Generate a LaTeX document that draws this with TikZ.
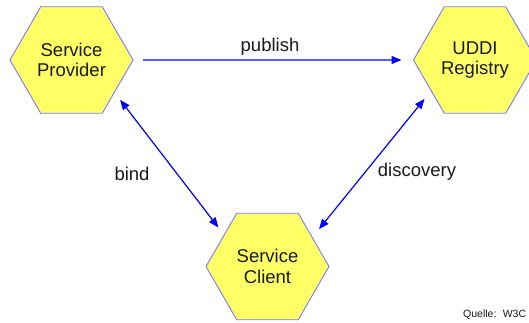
\documentclass[tikz,border=0pt]{standalone}
\usepackage{fontspec}
\setmainfont{Liberation Sans}
\usetikzlibrary{shapes.geometric,arrows.meta}
\definecolor{hexfill}{HTML}{FFFF66}
\definecolor{hexline}{HTML}{7878FF}
\definecolor{arrblue}{HTML}{0000FF}
\definecolor{txt}{HTML}{1A1A1A}
\begin{document}
\begin{tikzpicture}[x=1pt,y=-1pt,
  hexnode/.style={regular polygon, regular polygon sides=6, minimum size=123pt,
    inner sep=0pt, outer sep=0pt, fill=hexfill, draw=hexline, line width=0.9pt,
    align=center, text=txt, font=\fontsize{18.5}{20.5}\selectfont},
  conn/.style={draw=arrblue, line width=1.2pt, -{Triangle[length=10pt,width=8pt]}},
  biconn/.style={draw=arrblue, line width=1.2pt, {Triangle[length=10pt,width=8pt]}-{Triangle[length=10pt,width=8pt]}},
  lbl/.style={text=txt, font=\fontsize{18.5}{20.5}\selectfont, inner sep=0pt}]
\useasboundingbox (0,0) rectangle (529,322);
\clip (0,0) rectangle (529,322);
\fill[white] (0,0) rectangle (529,322);
\node[hexnode] (prov) at (71.5,60) {Service\\Provider};
\node[hexnode] (uddi) at (475,60) {UDDI\\Registry};
\node[hexnode] (client) at (267.5,266.5) {Service\\Client};
\draw[conn, shorten <=10pt, shorten >=12pt] (prov.0) -- (uddi.180);
\draw[biconn, shorten <=9.5pt, shorten >=9.5pt] (prov.-37) -- (client.144.7);
\draw[biconn, shorten <=10.6pt, shorten >=10.8pt] (uddi.-145.8) -- (client.33.6);
\node[lbl] (publish) at (270,47) {publish};
\node[lbl] (bind) at (132,174) {bind};
\node[lbl] (disc) at (417,172) {discovery};
\node[text=txt, font=\fontsize{10.5}{12}\selectfont, anchor=base west, inner sep=0pt] (quelle) at (463,317) {Quelle:\hspace{0.6em}W3C};
\end{tikzpicture}
\end{document}
